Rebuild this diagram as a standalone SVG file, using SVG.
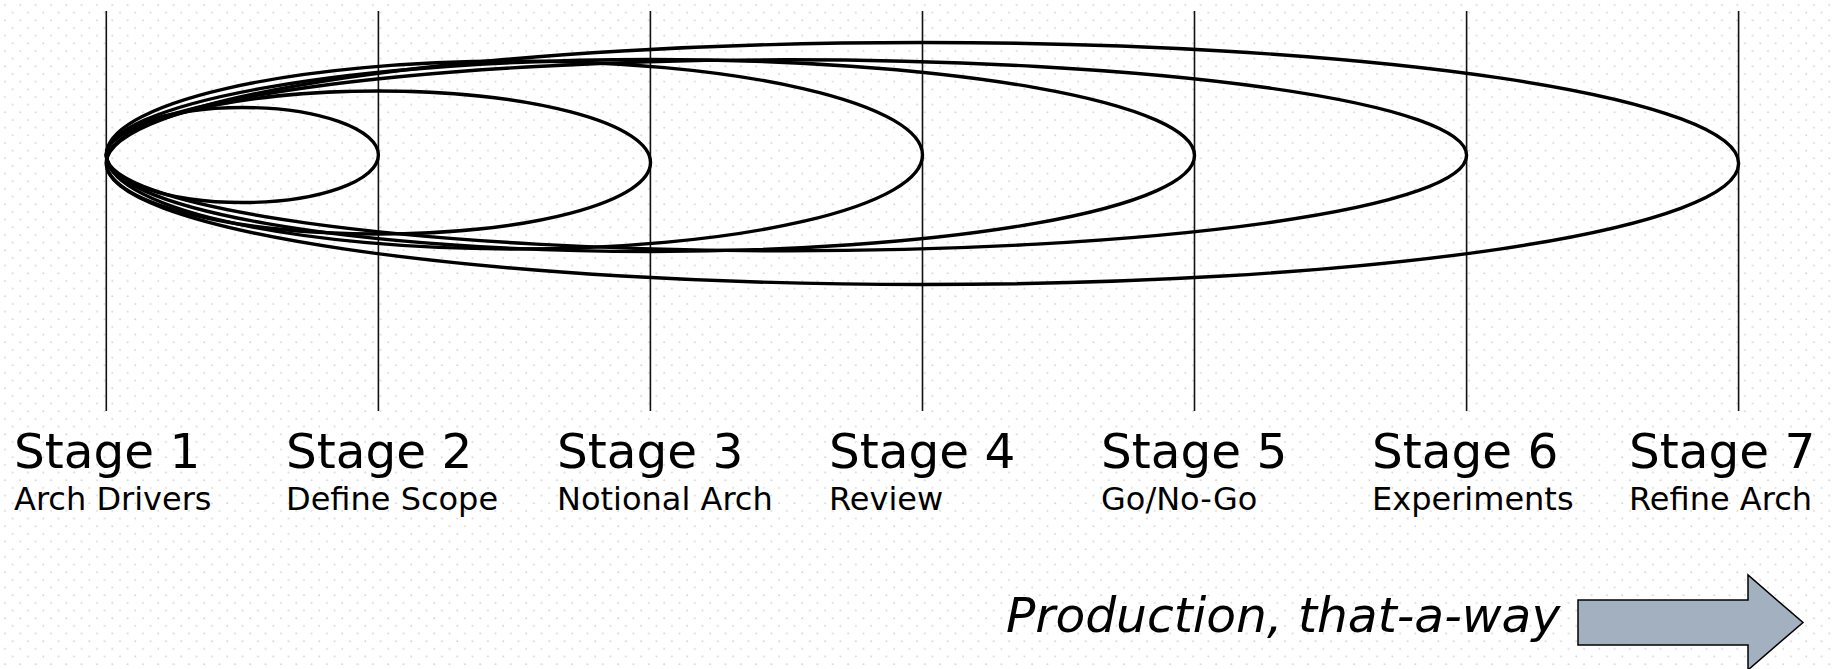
<svg xmlns="http://www.w3.org/2000/svg" width="1832" height="669" viewBox="0 0 1832 669">
<defs>
<pattern id="dots" x="0" y="0" width="15.33" height="15.33" patternUnits="userSpaceOnUse">
<circle cx="5" cy="5" r="1" fill="#d6d6d6"/>
<circle cx="12.67" cy="12.67" r="1" fill="#d6d6d6"/>
</pattern>
<style>
.vline{stroke:#111;stroke-width:1.6;fill:none}
.ell{stroke:#000;stroke-width:3.4;fill:none}
.title{font-family:"DejaVu Sans",Verdana,sans-serif;font-size:48.5px;fill:#000}
.sub{font-family:"DejaVu Sans",Verdana,sans-serif;font-size:32px;fill:#000}
.prod{font-family:"DejaVu Sans",Verdana,sans-serif;font-size:48.7px;font-style:italic;fill:#000}
</style>
</defs>
<rect width="1832" height="669" fill="#fff"/>
<rect width="1832" height="669" fill="url(#dots)"/>
<g id="connectors">
<line class="vline" x1="106.3" y1="11" x2="106.3" y2="411"/>
<line class="vline" x1="378.4" y1="11" x2="378.4" y2="411"/>
<line class="vline" x1="650.4" y1="11" x2="650.4" y2="411"/>
<line class="vline" x1="922.5" y1="11" x2="922.5" y2="411"/>
<line class="vline" x1="1194.5" y1="11" x2="1194.5" y2="411"/>
<line class="vline" x1="1466.6" y1="11" x2="1466.6" y2="411"/>
<line class="vline" x1="1738.6" y1="11" x2="1738.6" y2="411"/>
</g>
<g id="loops">
<ellipse class="ell" cx="242.35" cy="155" rx="136.05" ry="47.5"/>
<ellipse class="ell" cx="378.4" cy="162.5" rx="272.1" ry="71.5"/>
<ellipse class="ell" cx="514.4" cy="155" rx="408.1" ry="94"/>
<ellipse class="ell" cx="650.4" cy="155.5" rx="544.1" ry="96"/>
<ellipse class="ell" cx="786.45" cy="155.3" rx="680.15" ry="95.5"/>
<ellipse class="ell" cx="922.45" cy="163.5" rx="816.15" ry="121"/>
</g>
<g id="stage1"><text class="title" x="14" y="468">Stage 1</text><text class="sub" x="14" y="510">Arch Drivers</text></g>
<g id="stage2"><text class="title" x="286" y="468">Stage 2</text><text class="sub" x="286" y="510">Define Scope</text></g>
<g id="stage3"><text class="title" x="557" y="468">Stage 3</text><text class="sub" x="557" y="510">Notional Arch</text></g>
<g id="stage4"><text class="title" x="829" y="468">Stage 4</text><text class="sub" x="829" y="510">Review</text></g>
<g id="stage5"><text class="title" x="1101" y="468">Stage 5</text><text class="sub" x="1101" y="510">Go/No-Go</text></g>
<g id="stage6"><text class="title" x="1372" y="468">Stage 6</text><text class="sub" x="1372" y="510">Experiments</text></g>
<g id="stage7"><text class="title" x="1629" y="468">Stage 7</text><text class="sub" x="1629" y="510">Refine Arch</text></g>
<g id="production">
<text class="prod" x="1006" y="632">Production, that-a-way</text>
<path d="M1578,600 H1748 V575 L1803,622.5 L1748,670 V645 H1578 Z" fill="#a2b0bf" stroke="#000" stroke-width="1.5"/>
</g>
</svg>
